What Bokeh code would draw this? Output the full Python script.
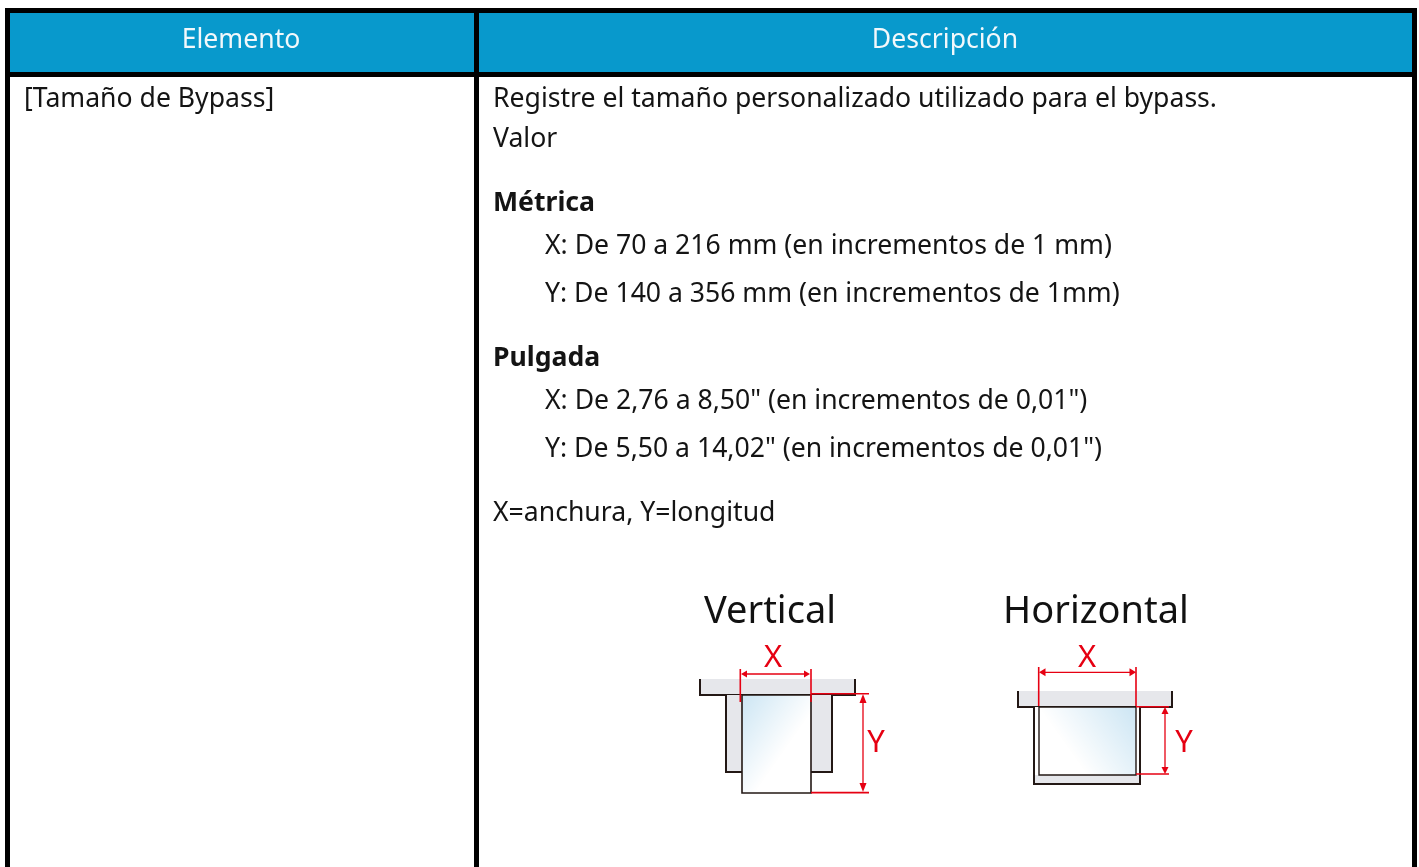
import numpy as np
from bokeh.plotting import figure
from bokeh.models import Range1d
from bokeh.embed import file_html
from bokeh.resources import INLINE
from bokeh.core.properties import value

W, H = 1419, 867
FONT = "Noto Sans"
BLUE = "#0899cc"
RED = "#e60012"
GRAY = "#e6e7eb"
INK = "#231815"
TXT = "#141414"
BASE_SHIFT = 0.43
BODY = 26.6

# texts
headers = ["Elemento", "Descripción"]
item = "[Tamaño de Bypass]"
body_lines = ["Registre el tamaño personalizado utilizado para el bypass.", "Valor",
              "X: De 70 a 216 mm (en incrementos de 1 mm)", "Y: De 140 a 356 mm (en incrementos de 1mm)",
              "X: De 2,76 a 8,50\" (en incrementos de 0,01\")", "Y: De 5,50 a 14,02\" (en incrementos de 0,01\")",
              "X=anchura, Y=longitud"]
bold_lines = ["Métrica", "Pulgada"]
diagram_titles = ["Vertical", "Horizontal"]

p = figure(width=W, height=H, x_range=Range1d(0.5, W + 0.5), y_range=Range1d(H + 0.5, 0.5),
           output_backend="svg", toolbar_location=None, min_border=0,
           outline_line_color=None, background_fill_color="white",
           styles={"position": "fixed", "left": "0px", "top": "0px"})
p.xaxis.visible = False
p.yaxis.visible = False
p.grid.visible = False


def rect(x0, x1, y0, y1, color):
    p.quad(left=x0, right=x1, top=y0, bottom=y1, fill_color=color, line_color=None)


def seg(xs, ys, color, w=2.0):
    p.line(xs, ys, line_color=color, line_width=w, line_cap="butt", line_join="miter")


def txt(x, y, s, size, color=TXT, align="left", style="normal"):
    p.text([x], [y - BASE_SHIFT * size], text=[s], text_font=value(FONT), text_font_size=f"{size}px",
           text_color=color, text_align=align, text_baseline="alphabetic", text_font_style=style)


def tri(xs, ys):
    p.patch(xs, ys, fill_color=RED, line_color=None)


def gradient(x0, x1, y0, y1, flip, ax, ay):
    nx, ny = int(x1 - x0), int(y1 - y0)
    gx, gy = np.meshgrid(np.linspace(0, 1, nx), np.linspace(0, 1, ny))
    if flip:
        gx = 1 - gx
    t = np.clip(1 - (gx * ax + gy * ay), 0, 1)
    img = np.zeros((ny, nx), dtype=np.uint32)
    v = img.view(dtype=np.uint8).reshape((ny, nx, 4))
    v[..., 0] = (255 - 50 * t).astype(np.uint8)
    v[..., 1] = (255 - 25 * t).astype(np.uint8)
    v[..., 2] = (255 - 11 * t).astype(np.uint8)
    v[..., 3] = 255
    p.image_rgba(image=[img], x=x0, y=y0, dw=x1 - x0, dh=y1 - y0)


# table
rect(10, 1412, 13, 72, BLUE)
rect(5, 1417, 8, 13, "black")
rect(5, 1417, 72, 77, "black")
rect(5, 10, 8, H, "black")
rect(474, 479, 8, H, "black")
rect(1412, 1417, 8, H, "black")

txt(241, 49, headers[0], BODY, "#f2f8fb", "center")
txt(945, 49, headers[1], BODY, "#f2f8fb", "center")
txt(24, 108, item, BODY)

x1, x2 = 493, 545
txt(x1, 108, body_lines[0], BODY)
txt(x1, 148, body_lines[1], BODY)
txt(x1, 212, bold_lines[0], BODY, style="bold")
txt(x2, 255, body_lines[2], BODY)
txt(x2, 303, body_lines[3], BODY)
txt(x1, 367, bold_lines[1], BODY, style="bold")
txt(x2, 410, body_lines[4], BODY)
txt(x2, 458, body_lines[5], BODY)
txt(x1, 522, body_lines[6], BODY)

# Vertical diagram
txt(770, 624, diagram_titles[0], 38, "#111111", "center")
rect(700, 855, 679, 695, GRAY)
seg([700, 700, 855, 855], [679, 695, 695, 679], INK, 2)
rect(726, 832, 695, 772, GRAY)
seg([726, 726, 832, 832], [695, 772, 772, 695], INK, 2)
gradient(742, 811, 695, 793, False, 0.85, 0.85)
seg([742, 742, 811, 811, 742], [695, 793, 793, 695, 695], INK, 1.6)
seg([740.3, 740.3], [669, 702], RED, 1.6)
seg([811, 811], [669, 702], RED, 1.6)
seg([745, 806], [674, 674], RED, 1.3)
tri([741, 747, 747], [674, 670.5, 677.5])
tri([810, 804, 804], [674, 670.5, 677.5])
seg([811, 869], [693.7, 693.7], RED, 1.6)
seg([811, 869], [792.7, 792.7], RED, 1.8)
seg([863, 863], [699, 788], RED, 1.3)
tri([863, 859.5, 866.5], [694, 703, 703])
tri([863, 859.5, 866.5], [792, 783, 783])
txt(773, 668, "X", 31, RED, "center")
txt(876, 753, "Y", 31, RED, "center")

# Horizontal diagram
txt(1096, 624, diagram_titles[1], 38, "#111111", "center")
rect(1018, 1172, 691, 707, GRAY)
seg([1018, 1018, 1172, 1172], [691, 707, 707, 691], INK, 2)
rect(1034, 1140, 707, 784, GRAY)
rect(1034, 1140, 707, 775, "white")
seg([1034, 1034, 1140, 1140], [707, 784, 784, 707], INK, 2)
gradient(1039, 1136, 707, 775, True, 1.0, 0.5)
seg([1039, 1039, 1136, 1136, 1039], [707, 775, 775, 707, 707], INK, 1.4)
seg([1038.7, 1038.7], [667, 706], RED, 1.6)
seg([1136, 1136], [667, 706], RED, 1.6)
seg([1043, 1132], [672.3, 672.3], RED, 1.3)
tri([1039, 1045.5, 1045.5], [672.3, 668.3, 676.3])
tri([1136, 1129.5, 1129.5], [672.3, 668.3, 676.3])
seg([1136, 1169], [706.7, 706.7], RED, 1.6)
seg([1136, 1169], [774, 774], RED, 1.6)
seg([1165, 1165], [711, 770], RED, 1.3)
tri([1165, 1161.5, 1168.5], [707, 714, 714])
tri([1165, 1161.5, 1168.5], [774, 767, 767])
txt(1087, 668, "X", 31, RED, "center")
txt(1184, 753, "Y", 31, RED, "center")

open("out.html", "w").write(file_html(p, INLINE))
